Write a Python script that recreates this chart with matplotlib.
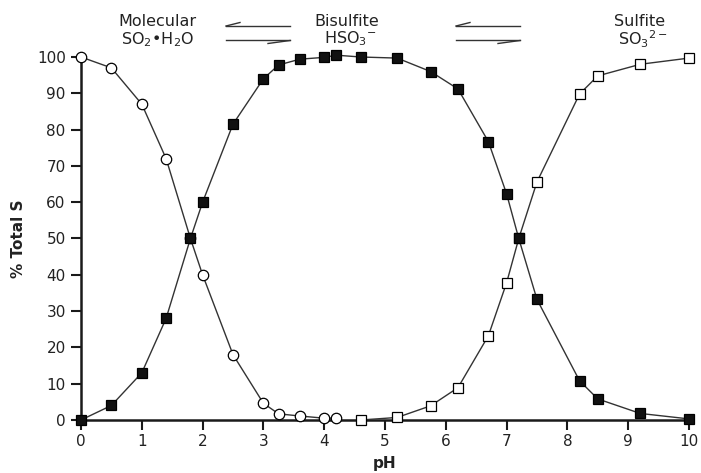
#!/usr/bin/env python3
"""Distribution of sulfur dioxide species (% of total S) versus pH."""

import matplotlib

matplotlib.use("Agg")
import matplotlib.pyplot as plt
from matplotlib.lines import Line2D

# Molecular SO2*H2O
ph_molecular = [0, 0.5, 1, 1.4, 1.8, 2, 2.5, 3, 3.25, 3.6, 4, 4.2]
molecular = [100, 97, 87, 72, 50, 40, 18, 4.6, 1.7, 1.1, 0.5, 0.5]

# Bisulfite HSO3-
ph_bisulfite = [0, 0.5, 1, 1.4, 1.8, 2, 2.5, 3, 3.25, 3.6, 4, 4.2,
                4.6, 5.2, 5.75, 6.2, 6.7, 7, 7.2, 7.5, 8.2, 8.5, 9.2, 10]
bisulfite = [0, 4, 13, 28, 50, 60, 81.5, 94, 97.8, 99.4, 99.9, 100.5,
             100, 99.7, 96, 91.2, 76.7, 62.3, 50, 33.2, 10.8, 5.8, 1.8, 0.3]

# Sulfite SO3 2-
ph_sulfite = [4.6, 5.2, 5.75, 6.2, 6.7, 7, 7.2, 7.5, 8.2, 8.5, 9.2, 10]
sulfite = [0, 0.7, 3.9, 8.9, 23.2, 37.8, 50, 65.6, 89.8, 94.8, 98, 99.7]

xticks = list(range(0, 11))
yticks = list(range(0, 101, 10))

INK = "#222222"
W, H = 701, 473

plt.rcParams["font.family"] = "DejaVu Sans"
plt.rcParams["mathtext.fontset"] = "dejavusans"

fig = plt.figure(figsize=(W / 100, H / 100), dpi=100)
ax = fig.add_axes([81 / W, 53 / H, 608 / W, 363 / H])

line_kw = dict(color="#333333", lw=1.0, ms=7.5, mec="black", mew=0.9, clip_on=False)
ax.plot(ph_molecular, molecular, marker="o", mfc="white", zorder=3, **line_kw)
ax.plot(ph_sulfite, sulfite, marker="s", mfc="white", zorder=3, **line_kw)
ax.plot(ph_bisulfite, bisulfite, marker="s", mfc="#111111", zorder=4, **line_kw)

ax.set_xlim(0, 10)
ax.set_ylim(0, 100)
ax.set_xticks(xticks)
ax.set_yticks(yticks)

for side in ("top", "right"):
    ax.spines[side].set_visible(False)
for side in ("left", "bottom"):
    ax.spines[side].set_linewidth(1.8)
    ax.spines[side].set_color("#1a1a1a")

ax.tick_params(direction="out", length=7, width=1.5, color="#1a1a1a",
               labelsize=11, labelcolor=INK)
ax.tick_params(axis="x", pad=3)
ax.tick_params(axis="y", pad=4)

ax.set_xlabel("pH", fontsize=11, fontweight="bold", color=INK, labelpad=5)
ax.set_ylabel("% Total S", fontsize=11, fontweight="bold", color=INK, labelpad=8)


def fx(px):
    return px / W


def fy(py):
    return 1 - py / H


# species names across the top
labels = [
    (157, 21.5, "Molecular"),
    (158, 40, r"SO$_2$•H$_2$O"),
    (347, 21.5, "Bisulfite"),
    (350, 39, r"HSO$_3$$^{-}$"),
    (640, 21.5, "Sulfite"),
    (643, 39, r"SO$_3$$^{2-}$"),
]
for px, py, txt in labels:
    fig.text(fx(px), fy(py), txt, ha="center", va="center", fontsize=11.5, color=INK)

# equilibrium harpoons between the species
for x0, x1 in [(226, 290), (456, 520)]:
    segs = [
        ((x0, x1), (26, 26)),            # upper line, pointing left
        ((x0, x0 + 14), (26, 22.5)),     # its barb
        ((x0, x1), (40.5, 40.5)),        # lower line, pointing right
        ((x1 - 22, x1), (43.5, 40.5)),   # its barb
    ]
    for xs, ys in segs:
        fig.add_artist(Line2D([fx(v) for v in xs], [fy(v) for v in ys],
                              color="#333333", lw=1.0))

fig.savefig("out.png", dpi=100)
